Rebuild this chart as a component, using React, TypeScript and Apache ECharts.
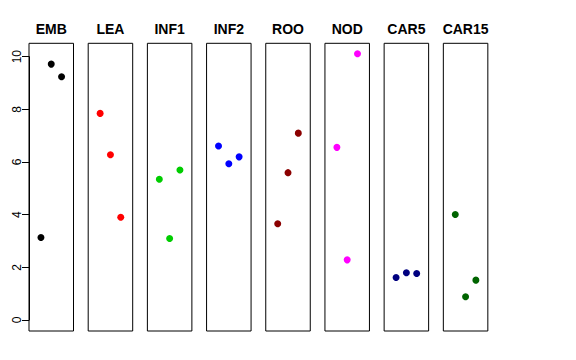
import React, { useEffect, useRef } from "react";
import * as echarts from "echarts";

const categories = ["EMB", "LEA", "INF1", "INF2", "ROO", "NOD", "CAR5", "CAR15"];
const colors = ["#000000", "#FF0000", "#00CD00", "#0000FF", "#8B0000", "#FF00FF", "#000080", "#006400"];
const positions = [1, 2, 3];
const valuesEMB = [3.14, 9.72, 9.24];
const valuesLEA = [7.85, 6.28, 3.91];
const valuesINF1 = [5.35, 3.1, 5.7];
const valuesINF2 = [6.61, 5.94, 6.2];
const valuesROO = [3.66, 5.6, 7.1];
const valuesNOD = [6.56, 2.29, 10.11];
const valuesCAR5 = [1.62, 1.8, 1.77];
const valuesCAR15 = [4.01, 0.89, 1.52];
const allValues = [valuesEMB, valuesLEA, valuesINF1, valuesINF2, valuesROO, valuesNOD, valuesCAR5, valuesCAR15];
const yTicks = [0, 2, 4, 6, 8, 10];

export default function App() {
  const ref = useRef<HTMLDivElement>(null);
  useEffect(() => {
    document.body.style.margin = "0";
    const chart = echarts.init(ref.current!, null, { renderer: "svg" });
    const left0 = 29;
    const step = 59.19;
    const w = 44.5;
    const top = 43.3;
    const h = 287.7;
    const grids: any[] = [];
    const xAxes: any[] = [];
    const yAxes: any[] = [];
    const series: any[] = [];
    const graphics: any[] = [];
    categories.forEach((c, i) => {
      const left = left0 + i * step;
      grids.push({ left, top, width: w, height: h, show: true, borderColor: "#000", borderWidth: 1, backgroundColor: "transparent" });
      xAxes.push({ gridIndex: i, type: "value", min: -0.16, max: 4.16, show: false });
      yAxes.push({ gridIndex: i, type: "value", min: -0.41, max: 10.51, show: false });
      series.push({
        type: "scatter",
        xAxisIndex: i,
        yAxisIndex: i,
        symbol: "circle",
        symbolSize: 7,
        itemStyle: { color: colors[i], opacity: 1 },
        data: positions.map((p, k) => [p, allValues[i][k]]),
      });
      graphics.push({
        type: "text",
        x: left + w / 2,
        y: 29,
        style: {
          text: c,
          fontFamily: "Liberation Sans, Arial, sans-serif",
          fontWeight: "bold",
          fontSize: 14,
          fill: "#000",
          align: "center",
          verticalAlign: "middle",
        },
      });
    });
    // axis-only grid
    const ai = categories.length;
    grids.push({ left: left0, top: 56.7, width: w, height: 263.3, show: false });
    xAxes.push({ gridIndex: ai, type: "value", min: 0, max: 1, show: false });
    yAxes.push({
      gridIndex: ai,
      type: "value",
      min: yTicks[0],
      max: yTicks[yTicks.length - 1],
      interval: 2,
      axisLine: { show: true, lineStyle: { color: "#000", width: 1 } },
      axisTick: { show: true, length: 7, lineStyle: { color: "#000" } },
      splitLine: { show: false },
      axisLabel: {
        rotate: 90,
        margin: 6,
        color: "#000",
        fontSize: 12,
        fontFamily: "Liberation Sans, Arial, sans-serif",
      },
    });
    chart.setOption({
      animation: false,
      backgroundColor: "#fff",
      grid: grids,
      xAxis: xAxes,
      yAxis: yAxes,
      series,
      graphic: graphics,
    });
    return () => chart.dispose();
  }, []);
  return <div ref={ref} style={{ position: "absolute", left: 0, top: 0, width: 576, height: 360 }} />;
}
